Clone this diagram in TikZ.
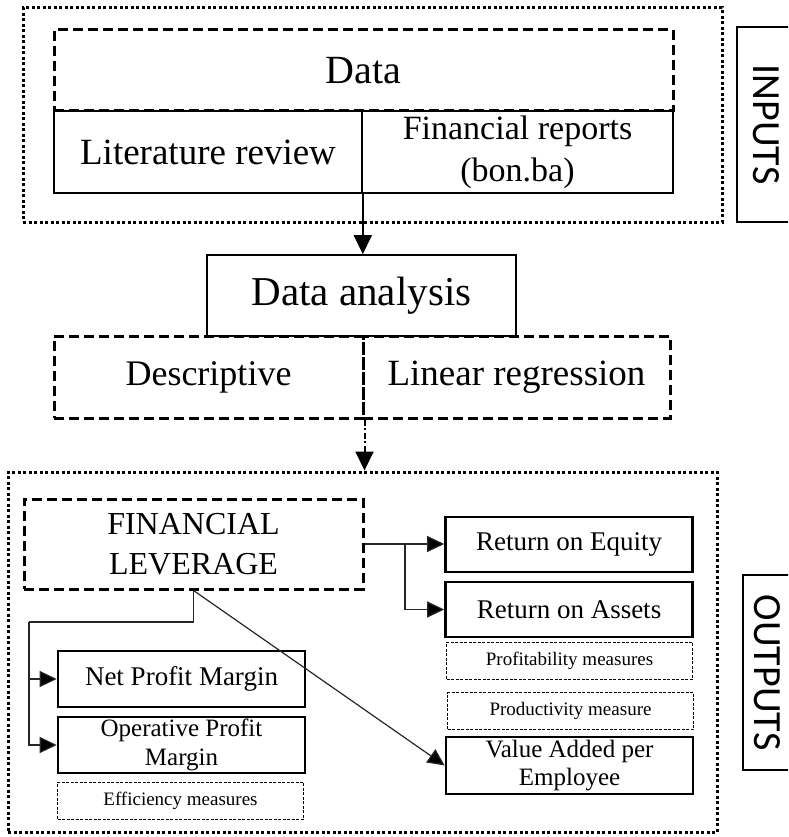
\documentclass[tikz,border=0pt]{standalone}
\usepackage{fontspec}
\setmainfont{Liberation Serif}
\newfontfamily\sidefont{Carlito}
\usetikzlibrary{arrows.meta}
\newcommand{\fsz}[2]{\fontsize{#1}{#2}\selectfont}
\tikzset{
  frame/.style={draw, line width=3pt, dash pattern=on 3pt off 2.5pt, inner sep=0pt},
  dashbox/.style={draw, line width=3pt, dash pattern=on 10pt off 5pt, align=center, inner sep=0pt},
  plainbox/.style={draw, line width=1.6pt, align=center, inner sep=0pt},
  resbox/.style={draw, line width=2.6pt, align=center, inner sep=0pt, minimum width=247pt, minimum height=56pt},
  notebox/.style={draw, line width=0.9pt, dash pattern=on 3pt off 1.5pt, align=center, inner sep=0pt, minimum width=246pt, minimum height=37pt, font=\fsz{19}{22}},
  sidebox/.style={draw, line width=1.8pt, rotate=-90, inner sep=0pt, font=\sidefont\fsz{40}{48}},
  link/.style={line width=1.2pt, draw=black!85, -{Triangle[length=17pt,width=16pt,fill=black]}},
  bigtip/.style={-{Triangle[length=19pt,width=18pt]}},
}
\begin{document}
\begin{tikzpicture}[x=1pt,y=-1pt]
  \clip (0,0) rectangle (788,837);
  % inputs
  \node[frame, minimum width=699pt, minimum height=214pt] (inframe) at (372.5,115) {};
  \node[dashbox, minimum width=619pt, minimum height=81pt, font=\fsz{40}{44}] (data) at (363.5,70.5) {Data};
  \node[plainbox, minimum width=308pt, minimum height=82pt, font=\fsz{37}{42}] (litrev) at (208,152) {Literature review};
  \node[plainbox, minimum width=311pt, minimum height=82pt, font=\fsz{34}{42}] (finrep) at (517.5,152) {Financial reports\\(bon.ba)};
  \node[sidebox, minimum width=195pt, minimum height=58pt] (inputs) at (766,124.5) {INPUTS};
  % analysis
  \node[plainbox, minimum width=309pt, minimum height=81pt, font=\fsz{41}{46}] (dana) at (361.5,295.5) {Data analysis};
  \node[dashbox, minimum width=309pt, minimum height=82pt, font=\fsz{36}{42}] (descr) at (208.5,377) {Descriptive};
  \node[dashbox, minimum width=307pt, minimum height=82pt, font=\fsz{37}{42}] (linreg) at (516.5,377) {Linear regression};
  % outputs
  \node[frame, minimum width=709pt, minimum height=360pt] (outframe) at (362.5,652) {};
  \node[dashbox, minimum width=339pt, minimum height=90pt, font=\fsz{32}{40}] (fl) at (193.5,544) {FINANCIAL\\LEVERAGE};
  \node[resbox, minimum height=55pt, font=\fsz{27}{30}] (roe) at (569,544.5) {Return on Equity};
  \node[resbox, minimum height=55pt, font=\fsz{27}{30}] (roa) at (569,609.5) {Return on Assets};
  \node[notebox] (profit) at (569.5,660.5) {Profitability measures};
  \node[notebox] (prod) at (570.5,711) {Productivity measure};
  \node[resbox, minimum height=57pt, font=\fsz{25}{28}] (vae) at (569.5,765.5) {Value Added per\\Employee};
  \node[resbox, font=\fsz{27}{30}] (npm) at (181.5,679) {Net Profit Margin};
  \node[resbox, font=\fsz{25}{29}] (opm) at (181.5,745) {Operative Profit\\Margin};
  \node[notebox] (effic) at (180.5,800.5) {Efficiency measures};
  \node[sidebox, minimum width=195pt, minimum height=48pt] (outputs) at (767,672.5) {OUTPUTS};
  % connectors
  \draw[line width=1.6pt, bigtip] (litrev.south east) -- (litrev.south east |- dana.north);
  \draw[line width=2pt, dash pattern=on 6pt off 2.5pt on 2pt off 2.5pt, bigtip] (descr.south east) -- (descr.south east |- outframe.north);
  \coordinate (rsplit) at (405,544);
  \draw[link] (fl.east) -- (fl.east -| roe.west);
  \draw[link] (rsplit) |- (roa.west);
  \coordinate (lsplit) at (29,622);
  \draw[line width=1.2pt, draw=black!85] (fl.south) |- (lsplit);
  \draw[link] (lsplit) |- (npm.west);
  \draw[link] (lsplit) |- (opm.west);
  \draw[link] (fl.south) -- (vae.west);
\end{tikzpicture}
\end{document}
